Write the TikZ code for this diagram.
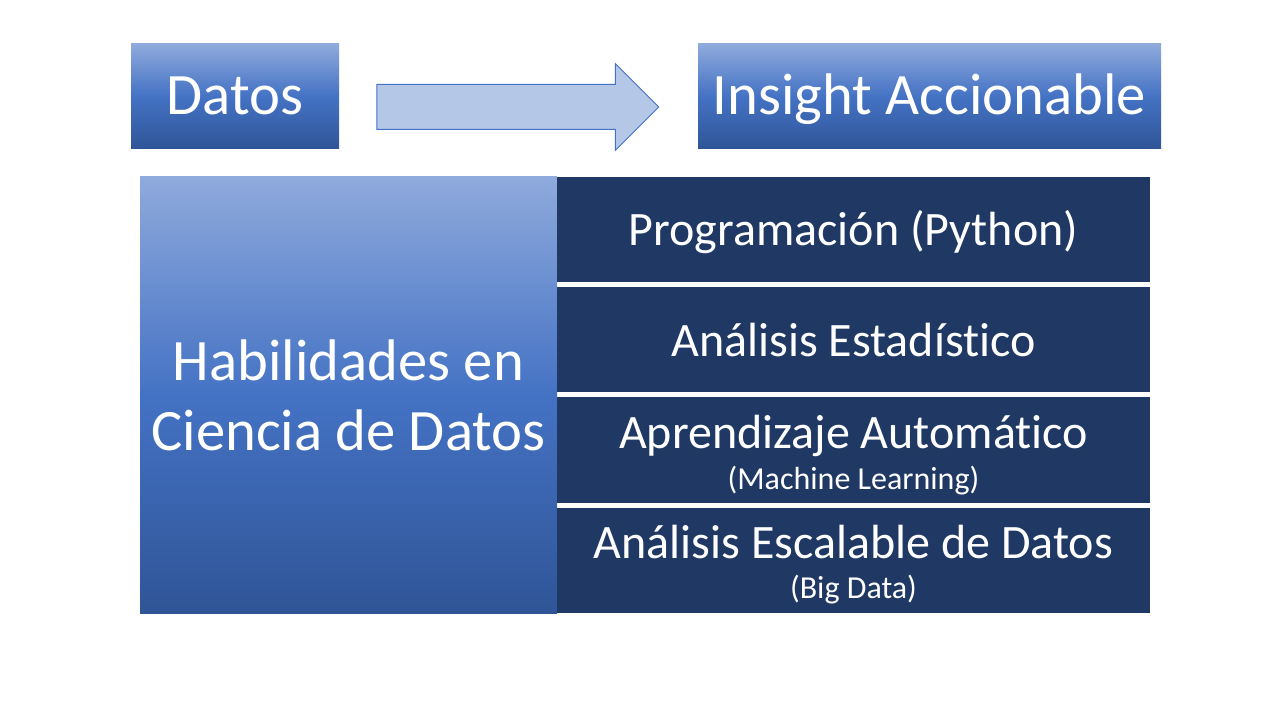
\documentclass[tikz,border=0pt]{standalone}
\usepackage{fontspec}
\setmainfont{Carlito}[Ligatures=NoCommon]
\usetikzlibrary{shapes.arrows}
\definecolor{navy}{HTML}{203864}
\definecolor{gtop}{HTML}{8FAADC}
\definecolor{gmid}{HTML}{4472C4}
\definecolor{gbot}{HTML}{2F5597}
\definecolor{arrowfill}{HTML}{B4C7E7}
\definecolor{arrowline}{HTML}{4472C4}
\newcommand{\fbig}{\fontsize{44}{52}\selectfont}
\newcommand{\fmid}{\fontsize{36}{43}\selectfont}
\newcommand{\fsmall}{\fontsize{24}{29}\selectfont}
\begin{document}
\begin{tikzpicture}[x=0.75pt,y=-0.75pt,
  gradbox/.style={rectangle,inner sep=0pt,top color=gtop,bottom color=gbot,middle color=gmid,draw=none},
  navybox/.style={rectangle,inner sep=0pt,fill=navy,draw=none},
  label/.style={text=white,inner sep=0pt,anchor=base},
]
\useasboundingbox (0,0) rectangle (1280,720);
\fill[white] (0,0) rectangle (1280,720);
% top boxes
\node[gradbox,minimum width=208*0.75pt,minimum height=105*0.75pt] (datos) at (235,96.5) {};
\node[gradbox,minimum width=463*0.75pt,minimum height=105*0.75pt] (insight) at (929.5,96.5) {};
\node[label,font=\fbig] (tdatos) at (235,115) {Datos};
\node[label,font=\fbig] (tinsight) at (929.5,115) {Insight Accionable};
% block arrow
\node[single arrow,draw=arrowline,fill=arrowfill,line width=0.75pt,inner sep=0pt,
  text height=22*0.75pt,text depth=22*0.75pt,text width=0pt,
  minimum height=282*0.75pt,
  single arrow head extend=21*0.75pt,single arrow head indent=0pt] (flecha) at (506.5,107) {};
% left box
\node[gradbox,minimum width=417*0.75pt,minimum height=436*0.75pt] (hab) at (348.5,395) {};
\node[label,font=\fbig] (thab1) at (348.5,380) {Habilidades en};
\node[label,font=\fbig] (thab2) at (348.5,450) {Ciencia de Datos};
% right rows
\node[navybox,minimum width=593*0.75pt,minimum height=105*0.75pt] (r1) at (853.5,229.5) {};
\node[navybox,minimum width=593*0.75pt,minimum height=105*0.75pt] (r2) at (853.5,339.5) {};
\node[navybox,minimum width=593*0.75pt,minimum height=106*0.75pt] (r3) at (853.5,450) {};
\node[navybox,minimum width=593*0.75pt,minimum height=105*0.75pt] (r4) at (853.5,560.5) {};
\node[label,font=\fmid] (t1) at (853.5,246) {Programación (Python)};
\node[label,font=\fmid] (t2) at (853.5,356) {Análisis Estadístico};
\node[label,font=\fmid] (t3) at (853.5,448) {Aprendizaje Automático};
\node[label,font=\fsmall] (t3b) at (853.5,489) {(Machine Learning)};
\node[label,font=\fmid] (t4) at (853.5,558) {Análisis Escalable de Datos};
\node[label,font=\fsmall] (t4b) at (853.5,598) {(Big Data)};
\end{tikzpicture}
\end{document}
